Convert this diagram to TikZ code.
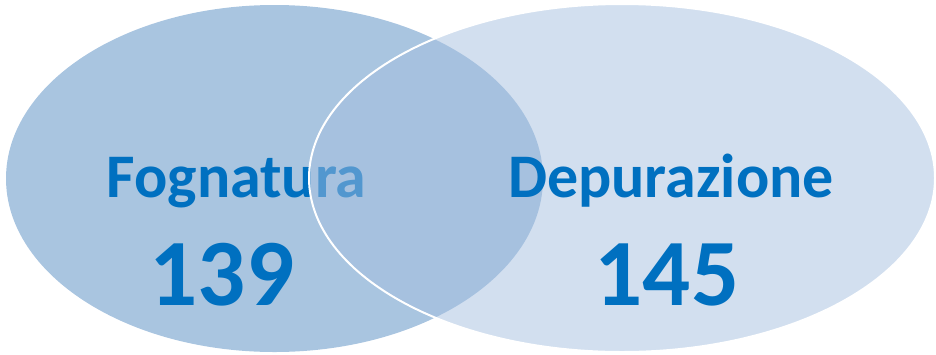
\documentclass[tikz,border=0pt]{standalone}
\usepackage{fontspec}
\setmainfont{Carlito}
\definecolor{fogna}{RGB}{169,197,224}
\definecolor{depur}{RGB}{165,191,223}
\definecolor{setlabel}{RGB}{0,112,192}
\begin{document}
\begin{tikzpicture}[x=1pt,y=-1pt]
  \tikzset{setname/.style={text=setlabel,font=\bfseries\fontsize{62}{62}\selectfont,anchor=base},
           setcount/.style={text=setlabel,font=\bfseries\fontsize{95}{95}\selectfont,anchor=base}}
  \useasboundingbox (0,0) rectangle (936,354);
  % left set
  \fill[fogna] (274.5,178.5) ellipse (268.5 and 173.5);
  \node[setname] (fognatura) at (236.5,197) {Fognatura};
  \node[setcount] (nfogna) at (222,305) {139};
  % right set
  \draw[white,line width=2pt,fill=depur,fill opacity=0.5] (622,178) ellipse (313 and 174);
  \node[setname] (depurazione) at (671,197) {Depurazione};
  \node[setcount] (ndepur) at (667,305) {145};
\end{tikzpicture}
\end{document}
